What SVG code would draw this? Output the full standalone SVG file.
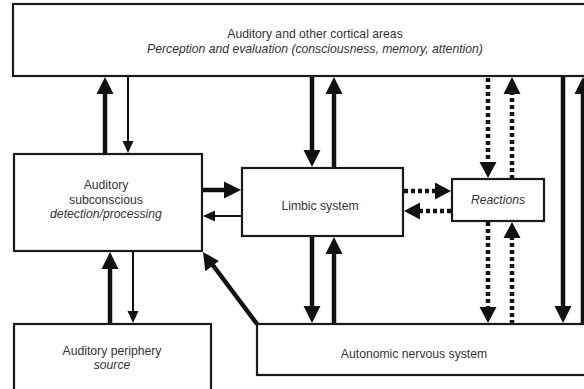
<svg xmlns="http://www.w3.org/2000/svg" width="584" height="389" viewBox="0 0 584 389">
<style>
.box{fill:#fff;stroke:#1a1a1a;stroke-width:2.2}
.t{font-family:"Liberation Sans",Arial,sans-serif;font-size:12.2px;fill:#333;text-anchor:middle}
.i{font-style:italic}
.thick{stroke:#111;stroke-width:4.5;fill:none}
.thin{stroke:#111;stroke-width:2;fill:none}
.dot{stroke:#111;stroke-width:4.5;fill:none;stroke-dasharray:4 3}
.h{fill:#111}
</style>
<rect width="584" height="389" fill="#fff"/>
<g id="cortical">
<rect class="box" x="13" y="4" width="620" height="72"/>
<text class="t" x="315" y="38">Auditory and other cortical areas</text>
<text class="t i" x="315" y="53">Perception and evaluation (consciousness, memory, attention)</text>
</g>
<g id="subconscious">
<rect class="box" x="14" y="154" width="188" height="97"/>
<text class="t" x="106" y="189">Auditory</text>
<text class="t" x="106" y="204">subconscious</text>
<text class="t i" x="106" y="218">detection/processing</text>
</g>
<g id="limbic">
<rect class="box" x="242" y="168" width="161" height="68"/>
<text class="t" x="320" y="210">Limbic system</text>
</g>
<g id="reactions">
<rect class="box" x="452" y="179" width="92" height="42"/>
<text class="t i" x="498" y="204">Reactions</text>
</g>
<g id="periphery">
<rect class="box" x="14" y="324" width="197" height="100"/>
<text class="t" x="112" y="355">Auditory periphery</text>
<text class="t i" x="112" y="369">source</text>
</g>
<g id="autonomic">
<rect class="box" x="257" y="324" width="400" height="51"/>
<text class="t" x="414" y="358">Autonomic nervous system</text>
</g>
<g id="connectors">
<line class="thick" x1="105" y1="154" x2="105" y2="92"/>
<polygon class="h" points="105,77 96.5,94 113.5,94"/>
<line class="thin" x1="128" y1="77" x2="128" y2="142"/>
<polygon class="h" points="128,153 122.5,141 133.5,141"/>
<line class="thick" x1="312" y1="77" x2="312" y2="152"/>
<polygon class="h" points="312,167 303.5,150 320.5,150"/>
<line class="thick" x1="334" y1="168" x2="334" y2="92"/>
<polygon class="h" points="334,77 325.5,94 342.5,94"/>
<line class="dot" x1="488" y1="78" x2="488" y2="165"/>
<polygon class="h" points="488,178 479.5,162 496.5,162"/>
<line class="dot" x1="512" y1="179" x2="512" y2="92"/>
<polygon class="h" points="512,77 503.5,94 520.5,94"/>
<line class="thick" x1="563" y1="77" x2="563" y2="308"/>
<polygon class="h" points="563,323 554.5,306 571.5,306"/>
<line class="thick" x1="583" y1="324" x2="583" y2="92"/>
<polygon class="h" points="583,77 574.5,94 591.5,94"/>
<line class="thick" x1="203" y1="190" x2="226" y2="190"/>
<polygon class="h" points="241,190 224,181.5 224,198.5"/>
<line class="thin" x1="241" y1="216" x2="214" y2="216"/>
<polygon class="h" points="203,216 215,210.5 215,221.5"/>
<line class="dot" x1="404" y1="191" x2="438" y2="191"/>
<polygon class="h" points="451,191 435,182.5 435,199.5"/>
<line class="dot" x1="451" y1="211" x2="418" y2="211"/>
<polygon class="h" points="404,211 420,202.5 420,219.5"/>
<line class="thick" x1="312" y1="237" x2="312" y2="308"/>
<polygon class="h" points="312,323 303.5,306 320.5,306"/>
<line class="thick" x1="334" y1="324" x2="334" y2="252"/>
<polygon class="h" points="334,237 325.5,254 342.5,254"/>
<line class="dot" x1="488" y1="222" x2="488" y2="310"/>
<polygon class="h" points="488,323 479.5,307 496.5,307"/>
<line class="dot" x1="512" y1="324" x2="512" y2="236"/>
<polygon class="h" points="512,222 503.5,238 520.5,238"/>
<line class="thick" x1="110" y1="324" x2="110" y2="267"/>
<polygon class="h" points="110,252 101.5,269 118.5,269"/>
<line class="thin" x1="133" y1="252" x2="133" y2="312"/>
<polygon class="h" points="133,323 127.5,311 138.5,311"/>
<line class="thick" x1="257" y1="324" x2="212" y2="264"/>
<polygon class="h" points="203,252 205.3,271.2 218.9,261"/>
</g>
</svg>
